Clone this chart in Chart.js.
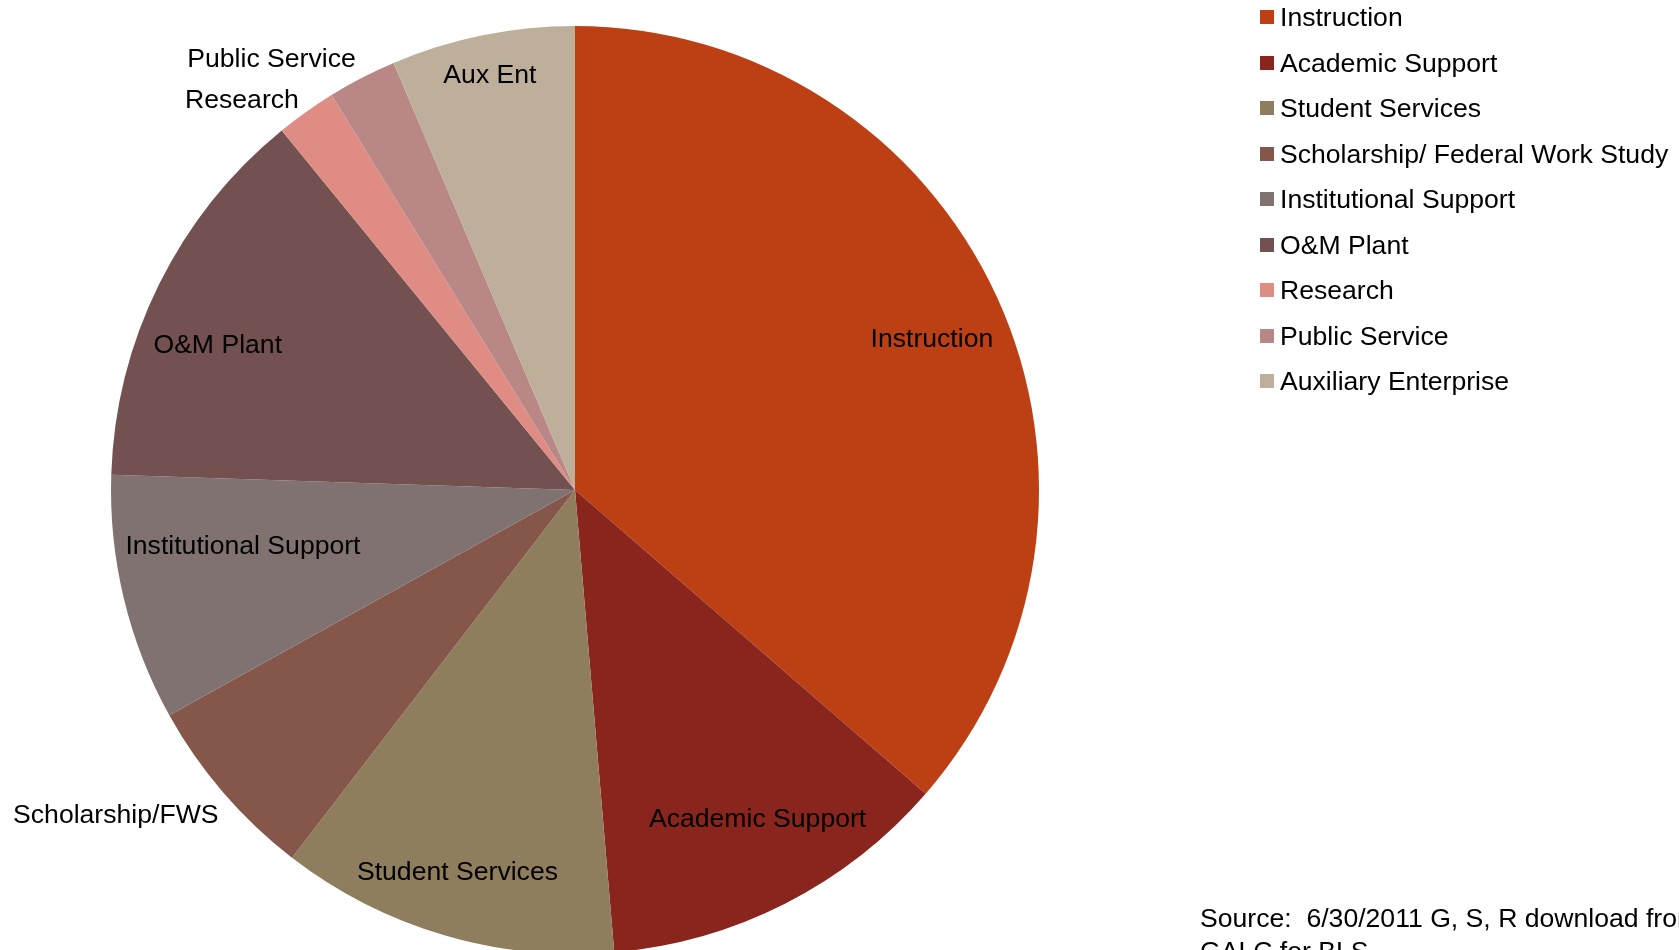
<!DOCTYPE html>
<html>
<head>
<meta charset="utf-8">
<script src="https://cdn.jsdelivr.net/npm/chart.js@4"></script>
<style>
  html, body { margin: 0; padding: 0; background: #fff; overflow: hidden; width: 1679px; height: 950px; }
  body { position: relative; font-family: 'Liberation Sans', Arial, sans-serif; color: #000; }
  #wrap { position: absolute; left: 0; top: 0; width: 1679px; height: 980px; }
  #legend { position: absolute; left: 1260px; top: 0; }
  .row { position: absolute; left: 0; height: 30px; white-space: nowrap; font-size: 26.6px; line-height: 30px; }
  .row span.box { position: absolute; left: 0; top: 8px; width: 14px; height: 14px; }
  .row span.txt { position: absolute; left: 20px; top: 0; }
  #source { position: absolute; left: 1200px; top: 902px; font-size: 26.6px; line-height: 33px; white-space: pre; }
</style>
</head>
<body>
<div id="wrap"><canvas id="pieChart"></canvas></div>
<div id="legend"></div>
<div id="source">Source:  6/30/2011 G, S, R download from
GALC for BLS</div>
<script>
// Expense categories (legend names)
const categories = ['Instruction', 'Academic Support', 'Student Services', 'Scholarship/ Federal Work Study',
    'Institutional Support', 'O&M Plant', 'Research', 'Public Service', 'Auxiliary Enterprise'];
// Short labels drawn on the pie
const sliceLabels = ['Instruction', 'Academic Support', 'Student Services', 'Scholarship/FWS',
    'Institutional Support', 'O&M Plant', 'Research', 'Public Service', 'Aux Ent'];
// Share of expenses, percent
const shares = [36.4, 12.3, 11.8, 6.5, 8.6, 13.6, 2.1, 2.4, 6.4];

const colors = ['#BD4015', '#89251C', '#8F7E5D', '#84574A', '#807270', '#745151', '#DF8D84', '#B98786', '#BEAF9B'];
// label placement: [fraction along the slice angle, fraction of radius]
const labelPlace = [[0.51, 0.837], [0.45, 0.807], [0.52, 0.856], [0.74, 1.21], [0.64, 0.725],
    [0.42, 0.833], [-0.15, 1.109], [-0.39, 1.14], [0.50, 0.919]];

// Legend
const legend = document.getElementById('legend');
categories.forEach((name, i) => {
    const row = document.createElement('div');
    row.className = 'row';
    row.style.top = (2 + i * 45.5) + 'px';
    row.innerHTML = '<span class="box" style="background:' + colors[i] + '"></span><span class="txt"></span>';
    row.querySelector('.txt').textContent = name;
    legend.appendChild(row);
});

// Draws the slice labels
const sliceLabelPlugin = {
    id: 'sliceLabels',
    afterDatasetsDraw(chart) {
        const ctx = chart.ctx;
        const arcs = chart.getDatasetMeta(0).data;
        ctx.save();
        ctx.font = "26.6px 'Liberation Sans', Arial, sans-serif";
        ctx.fillStyle = '#000';
        ctx.textAlign = 'center';
        ctx.textBaseline = 'middle';
        arcs.forEach((arc, i) => {
            const p = arc.getProps(['x', 'y', 'startAngle', 'endAngle', 'outerRadius'], true);
            const a = p.startAngle + (p.endAngle - p.startAngle) * labelPlace[i][0];
            const r = p.outerRadius * labelPlace[i][1];
            ctx.fillText(sliceLabels[i], p.x + Math.cos(a) * r, p.y + Math.sin(a) * r + 3);
        });
        ctx.restore();
    }
};

function renderPie() {
    const ctx = document.getElementById('pieChart').getContext('2d');
    new Chart(ctx, {
        type: 'pie',
        data: {
            labels: categories,
            datasets: [{
                data: shares,
                backgroundColor: colors,
                borderWidth: 0,
                hoverOffset: 0
            }]
        },
        options: {
            responsive: true,
            maintainAspectRatio: false,
            animation: false,
            layout: { padding: { left: 111, top: 26, right: 640, bottom: 26 } },
            plugins: {
                legend: { display: false },
                tooltip: { enabled: false }
            }
        },
        plugins: [sliceLabelPlugin]
    });
}

document.addEventListener('DOMContentLoaded', renderPie);
</script>
</body>
</html>
